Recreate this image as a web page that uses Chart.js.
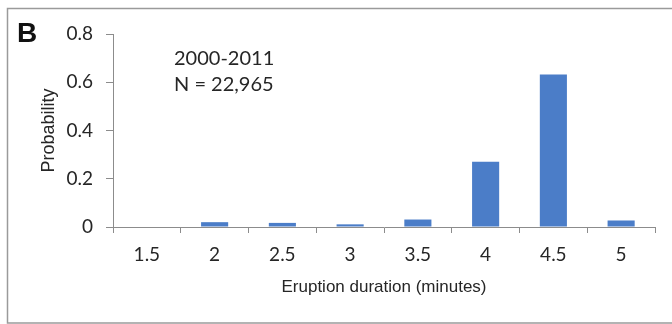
<!DOCTYPE html>
<html>
<head>
<meta charset="utf-8">
<script src="https://cdn.jsdelivr.net/npm/chart.js@4/dist/chart.umd.min.js"></script>
<style>
  html, body { margin: 0; padding: 0; background: #fff; }
  canvas { display: block; }
</style>
</head>
<body>
<canvas id="chart" width="672" height="324"></canvas>
<script>
// Eruption duration bins (minutes)
const durations = ['1.5', '2', '2.5', '3', '3.5', '4', '4.5', '5'];
// Probability of each duration bin, 2000-2011
const probability = [0, 0.02, 0.017, 0.011, 0.031, 0.27, 0.632, 0.027];
// Y axis tick values
const yTicks = [0, 0.2, 0.4, 0.6, 0.8];
// Panel annotations
const panelLetter = 'B';
const periodLabel = '2000-2011';
const countLabel = 'N = 22,965';

const axisColor = '#8c8c8c';
const textColor = '#262626';

const panelDecor = {
  id: 'panelDecor',
  afterDraw(chart) {
    const ctx = chart.ctx;
    ctx.save();
    // panel frame
    ctx.strokeStyle = '#9a9a9a';
    ctx.lineWidth = 1.5;
    ctx.strokeRect(7.5, 8.5, 700, 314.5);
    // panel letter
    ctx.fillStyle = '#111';
    ctx.font = 'bold 28px "Liberation Sans", Arial, sans-serif';
    ctx.textBaseline = 'alphabetic';
    ctx.textAlign = 'left';
    ctx.fillText(panelLetter, 17, 42);
    // period and sample size
    ctx.fillStyle = textColor;
    ctx.font = '20px Lato, sans-serif';
    ctx.fillText(periodLabel, 174, 65);
    ctx.fillText(countLabel, 174, 91);
    ctx.restore();
  }
};

new Chart(document.getElementById('chart'), {
  type: 'bar',
  data: {
    labels: durations,
    datasets: [{
      data: probability,
      backgroundColor: '#4b7dc8',
      borderWidth: 0,
      barPercentage: 0.4,
      categoryPercentage: 1.0
    }]
  },
  options: {
    responsive: false,
    devicePixelRatio: 1,
    animation: false,
    layout: { padding: { left: 0, right: 17, top: 34, bottom: 0 } },
    plugins: { legend: { display: false }, tooltip: { enabled: false } },
    scales: {
      x: {
        afterFit(scale) { scale.height = 97; },
        grid: {
          offset: true,
          drawOnChartArea: false,
          drawTicks: true,
          tickLength: 6,
          color: axisColor
        },
        border: { display: true, color: axisColor, width: 1 },
        ticks: {
          padding: 10,
          color: textColor,
          font: { family: 'Lato', size: 19 }
        },
        title: {
          display: true,
          text: 'Eruption duration (minutes)',
          color: textColor,
          font: { family: '"Liberation Sans", Arial', size: 17 },
          padding: { top: 0, bottom: 26 }
        }
      },
      y: {
        min: 0,
        max: 0.8,
        afterFit(scale) { scale.width = 113; },
        afterBuildTicks(scale) { scale.ticks = yTicks.map(v => ({ value: v })); },
        grid: {
          drawOnChartArea: false,
          drawTicks: true,
          tickLength: 7,
          color: axisColor
        },
        border: { display: true, color: axisColor, width: 1 },
        ticks: {
          padding: 13,
          color: textColor,
          font: { family: 'Lato', size: 19 },
          callback: v => String(Math.round(v * 10) / 10)
        },
        title: {
          display: true,
          text: 'Probability',
          color: textColor,
          font: { family: '"Liberation Sans", Arial', size: 18 },
          padding: { top: 38, bottom: 0 }
        }
      }
    }
  },
  plugins: [panelDecor]
});
</script>
</body>
</html>
